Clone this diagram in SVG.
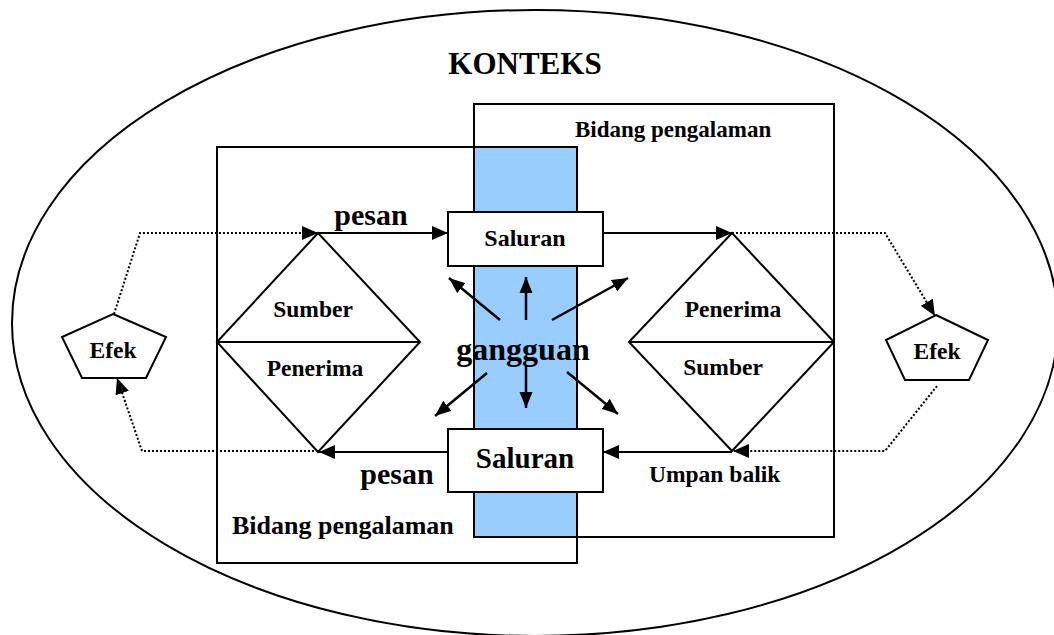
<svg xmlns="http://www.w3.org/2000/svg" width="1054" height="635" viewBox="0 0 1054 635">
<style>
  .ln{fill:none;stroke:#000;stroke-width:2}
  .dot{fill:none;stroke:#000;stroke-width:2;stroke-dasharray:2 2}
  .t{font-family:"Liberation Serif","Times New Roman",serif;font-weight:bold;fill:#000}
  .m{text-anchor:middle}
</style>
<defs>
  <marker id="ah" markerUnits="userSpaceOnUse" markerWidth="18" markerHeight="14" refX="16" refY="7" orient="auto">
    <path d="M0,0 L16,7 L0,14 Z" fill="#000"/>
  </marker>
  <marker id="ah2" markerUnits="userSpaceOnUse" markerWidth="18" markerHeight="14" refX="16" refY="7" orient="auto">
    <path d="M0,0.5 L16,7 L0,13.5 Z" fill="#000"/>
  </marker>
</defs>
<rect width="1054" height="635" fill="#fff"/>
<g id="konteks">
  <ellipse cx="535" cy="323" rx="523" ry="313" class="ln"/>
  <text x="525" y="74" class="t m" font-size="31">KONTEKS</text>
</g>
<g id="bidang-kanan">
  <rect x="474" y="104" width="360" height="433" class="ln"/>
  <text x="575" y="137" class="t" font-size="23">Bidang pengalaman</text>
</g>
<g id="bidang-kiri">
  <rect x="217" y="147" width="360" height="416" class="ln"/>
  <text x="232" y="534" class="t" font-size="26">Bidang pengalaman</text>
</g>
<g id="gangguan">
  <rect x="474" y="147" width="103" height="390" fill="#99ccff" stroke="#000" stroke-width="2"/>
</g>
<g id="connectors">
  <line x1="318" y1="233" x2="448" y2="233" class="ln" marker-end="url(#ah)"/>
  <line x1="603" y1="233" x2="732" y2="233" class="ln" marker-end="url(#ah)"/>
  <line x1="732" y1="452" x2="603" y2="452" class="ln" marker-end="url(#ah)"/>
  <line x1="448" y1="452" x2="319" y2="452" class="ln" marker-end="url(#ah)"/>
  <polyline points="114,314 140,233 318,233" class="dot" marker-end="url(#ah)"/>
  <polyline points="318,451 142,451 117,378" class="dot" marker-end="url(#ah)"/>
  <polyline points="732,233 885,233 935,316" class="dot" marker-end="url(#ah)"/>
  <polyline points="937,386 885,451 733,451" class="dot" marker-end="url(#ah)"/>
  <g stroke="#000" stroke-width="2.5" fill="none">
    <line x1="500" y1="320" x2="449" y2="278" marker-end="url(#ah2)"/>
    <line x1="526" y1="320" x2="526" y2="277" marker-end="url(#ah2)"/>
    <line x1="552" y1="320" x2="628" y2="278" marker-end="url(#ah2)"/>
    <line x1="487" y1="373" x2="435" y2="416" marker-end="url(#ah2)"/>
    <line x1="526" y1="366" x2="526" y2="408" marker-end="url(#ah2)"/>
    <line x1="567" y1="372" x2="618" y2="414" marker-end="url(#ah2)"/>
  </g>
  <text x="371" y="225" class="t m" font-size="30">pesan</text>
  <text x="397" y="484" class="t m" font-size="30">pesan</text>
  <text x="649" y="482" class="t" font-size="23.5">Umpan balik</text>
  <text x="523" y="360" class="t m" font-size="32">gangguan</text>
</g>
<g id="saluran-atas">
  <rect x="448" y="212" width="155" height="54" fill="#fff" stroke="#000" stroke-width="2"/>
  <text x="525" y="246" class="t m" font-size="24">Saluran</text>
</g>
<g id="saluran-bawah">
  <rect x="448" y="429" width="155" height="63" fill="#fff" stroke="#000" stroke-width="2"/>
  <text x="525" y="468" class="t m" font-size="29">Saluran</text>
</g>
<g id="sumber-penerima-kiri">
  <polygon points="217,342 318,233 420,342 318,452" class="ln"/>
  <line x1="217" y1="342" x2="420" y2="342" class="ln"/>
  <text x="313" y="317" class="t m" font-size="23.5">Sumber</text>
  <text x="315" y="376" class="t m" font-size="23.5">Penerima</text>
</g>
<g id="penerima-sumber-kanan">
  <polygon points="629,342 732,233 834,342 732,451" class="ln"/>
  <line x1="629" y1="342" x2="834" y2="342" class="ln"/>
  <text x="733" y="317" class="t m" font-size="23.5">Penerima</text>
  <text x="723" y="375" class="t m" font-size="23.5">Sumber</text>
</g>
<g id="efek-kiri">
  <polygon points="113,314 166,337 146,378 82,378 62,337" class="ln"/>
  <text x="113" y="358" class="t m" font-size="23.5">Efek</text>
</g>
<g id="efek-kanan">
  <polygon points="936,315 988,340 969,380 905,380 886,340" class="ln"/>
  <text x="937" y="359" class="t m" font-size="23.5">Efek</text>
</g>
</svg>
